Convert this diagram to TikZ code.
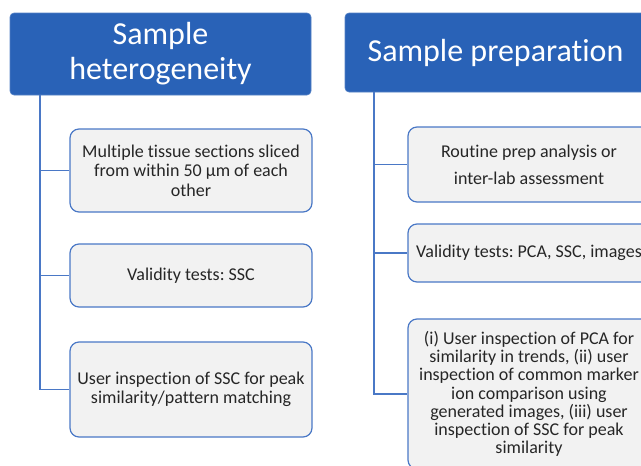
\documentclass[tikz,border=0pt]{standalone}
\usepackage{fontspec}
\setmainfont[RawFeature={-liga;-clig;-dlig}]{Carlito}
\frenchspacing
\definecolor{hdrblue}{HTML}{2962B7}
\definecolor{lineblue}{HTML}{4A78C6}
\definecolor{boxfill}{HTML}{F2F2F2}
\definecolor{txt}{HTML}{262626}
\begin{document}
\begin{tikzpicture}[x=1pt,y=-1pt,
  header/.style={fill=hdrblue, draw=hdrblue!80!white, line width=0.6pt, rounded corners=4pt,
    text=white, align=center, inner sep=0pt, font=\fontsize{32}{35}\selectfont},
  itembox/.style={fill=boxfill, draw=lineblue, line width=1.2pt, rounded corners=9pt,
    text=txt, align=center, inner sep=0pt, minimum width=242pt, font=\fontsize{18}{19.5}\selectfont},
  conn/.style={draw=lineblue, line width=1.3pt}]
\useasboundingbox (0,0) rectangle (641,466);
\clip (0,0) rectangle (641,466);
% headers
\node[header, minimum width=301pt, minimum height=82pt] (lh) at (160.5,54) {Sample\\heterogeneity};
\node[header, minimum width=301pt, minimum height=79pt] (rh) at (495.5,52.5) {Sample preparat\kern0pt ion};
% left boxes
\node[itembox, minimum height=83pt] (lb1) at (191,170.5) {Multiple tissue sections sliced\\from within 50 µm of each\\other};
\node[itembox, minimum height=63pt] (lb2) at (191,275.5) {Validity tests: SSC};
\node[itembox, minimum height=95pt] (lb3) at (191,389.5) {User inspection of SSC for peak\\similarity/pattern matching};
% right boxes
\node[itembox, minimum height=75pt, font=\fontsize{18}{27}\selectfont] (rb1) at (529,164.5) {Routine prep analysis or\\inter-lab assessment};
\node[itembox, minimum height=58pt] (rb2) at (529,253) {Validity tests: PCA, SSC, images};
\node[itembox, minimum height=150pt, font=\fontsize{18}{18.2}\selectfont] (rb3) at (529,394) {(i) User inspection of PCA for\\similarity in trends, (ii) user\\inspection of common marker\\ion comparison using\\generated images, (iii) user\\inspection of SSC for peak\\similarity};
% tree connectors
\coordinate (lt) at (40,95);
\coordinate (rt) at (374,92);
\draw[conn] (lt) |- (lb3.west);
\draw[conn] (lt |- lb1.west) -- (lb1.west);
\draw[conn] (lt |- lb2.west) -- (lb2.west);
\draw[conn] (rt) |- (rb3.west);
\draw[conn] (rt |- rb1.west) -- (rb1.west);
\draw[conn] (rt |- rb2.west) -- (rb2.west);
\end{tikzpicture}
\end{document}
